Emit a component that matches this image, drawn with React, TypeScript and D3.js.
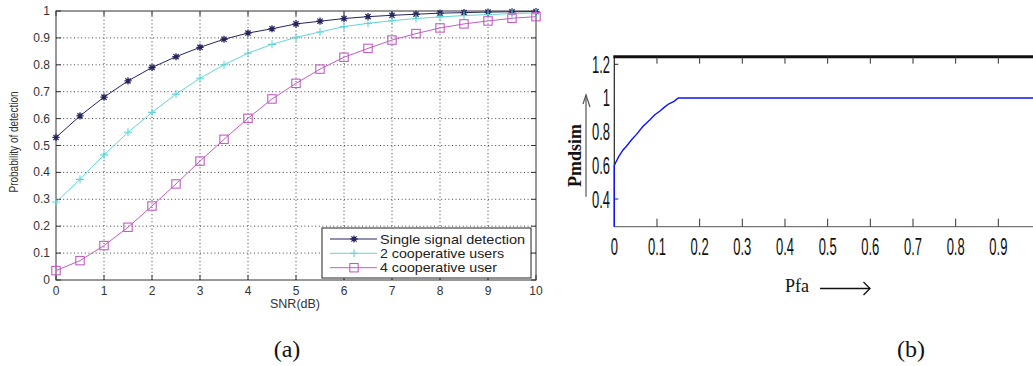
import React from "react";
import * as d3 from "d3";

// ---------- Data (a) ----------
const snr = [0, 0.5, 1, 1.5, 2, 2.5, 3, 3.5, 4, 4.5, 5, 5.5, 6, 6.5, 7, 7.5, 8, 8.5, 9, 9.5, 10];
const single = [0.53, 0.61, 0.68, 0.74, 0.79, 0.83, 0.865, 0.895, 0.918, 0.934, 0.952, 0.962, 0.972, 0.979, 0.984, 0.988, 0.992, 0.994, 0.996, 0.997, 0.998];
const coop2 = [0.29, 0.374, 0.465, 0.549, 0.623, 0.691, 0.75, 0.8, 0.843, 0.876, 0.902, 0.922, 0.942, 0.954, 0.964, 0.972, 0.978, 0.983, 0.987, 0.99, 0.993];
const coop4 = [0.035, 0.072, 0.128, 0.196, 0.275, 0.357, 0.442, 0.523, 0.601, 0.673, 0.731, 0.784, 0.828, 0.861, 0.892, 0.916, 0.937, 0.952, 0.963, 0.973, 0.979];
const xTicksA = [0, 1, 2, 3, 4, 5, 6, 7, 8, 9, 10];
const yTicksA = [0, 0.1, 0.2, 0.3, 0.4, 0.5, 0.6, 0.7, 0.8, 0.9, 1];
const legendLabels = ["Single signal detection", "2 cooperative users", "4 cooperative user"];

// ---------- Data (b) ----------
const pfa = [0, 0, 0.003, 0.01, 0.02, 0.029, 0.04, 0.052, 0.067, 0.083, 0.095, 0.107, 0.117, 0.127, 0.14, 0.15, 1.0];
const pmd = [0.235, 0.6, 0.615, 0.65, 0.69, 0.715, 0.75, 0.784, 0.83, 0.869, 0.9, 0.923, 0.944, 0.964, 0.98, 1.0, 1.0];
const xTicksB = [0, 0.1, 0.2, 0.3, 0.4, 0.5, 0.6, 0.7, 0.8, 0.9];
const yTicksB = [0.4, 0.6, 0.8, 1, 1.2];
const yTickMarksB = [0.4, 1.2];

const navy = "#25255e";
const cyan = "#62d6d8";
const magenta = "#c35cc3";

export default function App() {
  // chart (a)
  const xA = d3.scaleLinear().domain([0, 10]).range([56, 536]);
  const yA = d3.scaleLinear().domain([0, 1]).range([280, 11]);
  const lineA = (vals: number[]) =>
    d3.line<number>().x((_, i) => xA(snr[i])).y((v) => yA(v))(vals) || "";

  const series = [
    { vals: single, color: navy, marker: "star" },
    { vals: coop2, color: cyan, marker: "plus" },
    { vals: coop4, color: magenta, marker: "square" },
  ];

  const marker = (type: string, x: number, y: number, color: string, key: string) => {
    if (type === "star") {
      const r = 3.6;
      const d = r * 0.72;
      return (
        <path key={key} d={`M${x - r},${y}H${x + r}M${x},${y - r}V${y + r}M${x - d},${y - d}L${x + d},${y + d}M${x - d},${y + d}L${x + d},${y - d}`} stroke={color} strokeWidth={1.3} fill="none" />
      );
    }
    if (type === "plus") {
      const r = 4;
      return <path key={key} d={`M${x - r},${y}H${x + r}M${x},${y - r}V${y + r}`} stroke={color} strokeWidth={1.1} fill="none" />;
    }
    const s = 4.2;
    return <rect key={key} x={x - s} y={y - s} width={2 * s} height={2 * s} stroke={color} strokeWidth={1.1} fill="none" />;
  };

  // chart (b)
  const xB = d3.scaleLinear().domain([0, 1]).range([614.3, 1041]);
  const yB = d3.scaleLinear().domain([0.4, 1.2]).range([199, 64.3]);
  const yBottomB = 226.7;
  const yTopB = 56.7;
  const lineB = d3.line<number>().x((_, i) => xB(pfa[i])).y((v) => yB(v))(pmd) || "";

  const tickFont = "'Liberation Sans Narrow', 'Arial Narrow', 'Liberation Sans', Arial, sans-serif";
  const sansFont = "'Liberation Sans', Arial, Helvetica, sans-serif";
  const serif = "'Liberation Serif', 'Times New Roman', serif";

  const legX = 322, legY = 228, legW = 209, legH = 50;
  const rowYs = [239, 253.3, 267.7];
  const legWidths = [145, 124, 117];

  return (
    <svg width={1033} height={366} style={{ position: "absolute", left: 0, top: 0, background: "#fff" }}>
      <rect x={0} y={0} width={1033} height={366} fill="#fff" />
      {/* ---------- (a) ---------- */}
      <g>
        {/* grid */}
        {xTicksA.slice(1, -1).map((t) => (
          <line key={"gx" + t} x1={xA(t)} x2={xA(t)} y1={yA(0)} y2={yA(1)} stroke="#444" strokeWidth={1} strokeDasharray="1,2.6" />
        ))}
        {yTicksA.slice(1, -1).map((t) => (
          <line key={"gy" + t} x1={xA(0)} x2={xA(10)} y1={yA(t)} y2={yA(t)} stroke="#444" strokeWidth={1} strokeDasharray="1,2.6" />
        ))}
        {/* frame */}
        <rect x={xA(0)} y={yA(1)} width={xA(10) - xA(0)} height={yA(0) - yA(1)} fill="none" stroke="#333" strokeWidth={1} />
        {/* ticks */}
        {xTicksA.map((t) => (
          <g key={"tx" + t}>
            <line x1={xA(t)} x2={xA(t)} y1={yA(0)} y2={yA(0) - 5} stroke="#333" />
            <line x1={xA(t)} x2={xA(t)} y1={yA(1)} y2={yA(1) + 5} stroke="#333" />
            <text x={xA(t)} y={yA(0) + 15} textAnchor="middle" fontFamily={sansFont} fontSize={12} fill="#333">{t}</text>
          </g>
        ))}
        {yTicksA.map((t) => (
          <g key={"ty" + t}>
            <line x1={xA(0)} x2={xA(0) + 5} y1={yA(t)} y2={yA(t)} stroke="#333" />
            <line x1={xA(10)} x2={xA(10) - 5} y1={yA(t)} y2={yA(t)} stroke="#333" />
            <text x={xA(0) - 6} y={yA(t) + 4} textAnchor="end" fontFamily={sansFont} fontSize={12} fill="#333">{t}</text>
          </g>
        ))}
        {/* series */}
        {series.map((s, si) => (
          <g key={"s" + si}>
            <path d={lineA(s.vals)} fill="none" stroke={s.color} strokeWidth={1} />
            {s.vals.map((v, i) => marker(s.marker, xA(snr[i]), yA(v), s.color, `m${si}-${i}`))}
          </g>
        ))}
        {/* axis labels */}
        <text x={295} y={308} textAnchor="middle" fontFamily={sansFont} fontSize={12.5} fill="#333">SNR(dB)</text>
        <text transform="translate(18,142) rotate(-90)" textAnchor="middle" fontFamily={sansFont} fontSize={12} fill="#333" textLength={101} lengthAdjust="spacingAndGlyphs">Probability of detection</text>
        {/* legend */}
        <rect x={legX} y={legY} width={legW} height={legH} fill="#fff" stroke="#222" strokeWidth={1} />
        {series.map((s, i) => (
          <g key={"lg" + i}>
            <line x1={330} x2={377} y1={rowYs[i]} y2={rowYs[i]} stroke={s.color} strokeWidth={1} />
            {marker(s.marker, 354, rowYs[i], s.color, "lm" + i)}
            <text x={380} y={rowYs[i] + 4.5} fontFamily={sansFont} fontSize={13} fill="#222" textLength={legWidths[i]} lengthAdjust="spacingAndGlyphs">{legendLabels[i]}</text>
          </g>
        ))}
      </g>

      {/* ---------- (b) ---------- */}
      <g>
        {/* axes */}
        <line x1={xB(0)} x2={1033} y1={yBottomB} y2={yBottomB} stroke="#777" strokeWidth={1.2} />
        <line x1={xB(0)} x2={xB(0)} y1={yTopB} y2={yBottomB} stroke="#222" strokeWidth={1.2} />
        <line x1={xB(0) - 1} x2={1033} y1={yTopB} y2={yTopB} stroke="#111" strokeWidth={3} />
        {xTicksB.map((t) => (
          <g key={"bx" + t}>
            {t > 0 && <line x1={xB(t)} x2={xB(t)} y1={yTopB} y2={yTopB + 7} stroke="#333" strokeWidth={1} />}
            {t > 0 && <line x1={xB(t)} x2={xB(t)} y1={yBottomB} y2={yBottomB - 8} stroke="#333" strokeWidth={1} />}
            <text transform={`translate(${xB(t)},255) scale(1,1.8)`} textAnchor="middle" fontFamily={tickFont} fontSize={13} fill="#111">{t}</text>
          </g>
        ))}
        {yTickMarksB.map((t) => (
          <line key={"bym" + t} x1={xB(0)} x2={xB(0) + 4} y1={yB(t)} y2={yB(t)} stroke="#222" strokeWidth={1} />
        ))}
        {yTicksB.map((t) => (
          <text key={"by" + t} transform={`translate(610,${yB(t) + 8.5}) scale(1,1.8)`} textAnchor="end" fontFamily={tickFont} fontSize={13} fill="#111">{t}</text>
        ))}
        <path d={lineB} fill="none" stroke="#1010ff" strokeWidth={1.4} />
        {/* y label with arrow */}
        <text transform="translate(581,155.5) rotate(-90)" textAnchor="middle" fontFamily={serif} fontWeight="bold" fontSize={18} fill="#111">Pmdsim</text>
        <line x1={586} x2={586} y1={196.7} y2={95} stroke="#555" strokeWidth={1.2} />
        <path d="M583,104 L586,95 L590,107" fill="none" stroke="#555" strokeWidth={1.2} />
        {/* x label with arrow */}
        <text x={785} y={292} fontFamily={serif} fontSize={18} fill="#111">Pfa</text>
        <line x1={820} x2={870} y1={288.5} y2={288.5} stroke="#111" strokeWidth={1.3} />
        <path d="M863.5,282 L870,288.5 L863.5,295" fill="none" stroke="#111" strokeWidth={1.3} />
      </g>

      {/* captions */}
      <text x={287} y={357} textAnchor="middle" fontFamily={serif} fontSize={24} fill="#111">(a)</text>
      <text x={911} y={357} textAnchor="middle" fontFamily={serif} fontSize={24} fill="#111">(b)</text>
    </svg>
  );
}
